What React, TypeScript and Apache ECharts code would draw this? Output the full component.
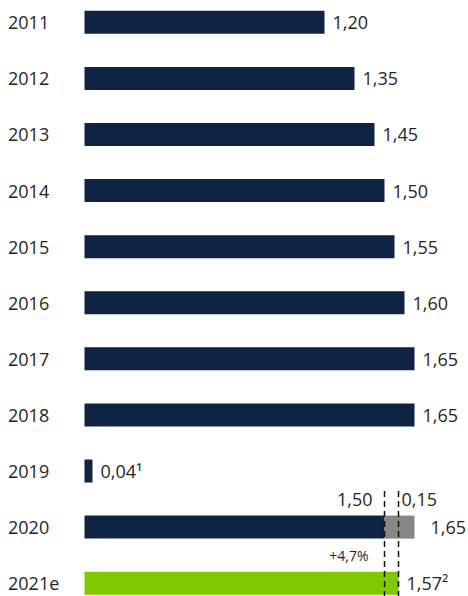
import React, { useEffect, useRef } from "react";
import * as echarts from "echarts";

const years = ["2011", "2012", "2013", "2014", "2015", "2016", "2017", "2018", "2019", "2020", "2021e"];
const dividend = [1.2, 1.35, 1.45, 1.5, 1.55, 1.6, 1.65, 1.65, 0.04, 1.5, 1.57];
const valueLabels = ["1,20", "1,35", "1,45", "1,50", "1,55", "1,60", "1,65", "1,65", "0,04¹", "1,50", "1,57²"];
const extra2020 = [null, null, null, null, null, null, null, null, null, 0.15, null];
const extraLabels = ["", "", "", "", "", "", "", "", "", "0,15", ""];
const totalMarker = [null, null, null, null, null, null, null, null, null, 0, null];
const totalLabels = ["", "", "", "", "", "", "", "", "", "1,65", ""];
const changeText = "+4,7%";

const NAVY = "#0f2343";
const GREY = "#878787";
const GREEN = "#82c800";
const TEXT = "#262626";
const FONT = "'Open Sans', 'Noto Sans', sans-serif";

export default function App() {
  const ref = useRef<HTMLDivElement>(null);
  useEffect(() => {
    if (!ref.current) return;
    const chart = echarts.init(ref.current, undefined, { renderer: "svg" });
    const idx2020 = years.indexOf("2020");
    const idx2021 = years.indexOf("2021e");
    chart.setOption({
      animation: false,
      grid: {
        left: 84.5,
        top: -5.75,
        height: 617,
        width: 400,
        containLabel: false,
        outerBoundsMode: "none",
      },
      xAxis: { type: "value", min: 0, max: 2, show: false },
      yAxis: {
        type: "category",
        data: years,
        inverse: true,
        axisLine: { show: false },
        axisTick: { show: false },
        splitLine: { show: false },
        axisLabel: { align: "left", margin: 76.5, fontSize: 18, color: TEXT, fontFamily: FONT },
      },
      series: [
        {
          type: "bar",
          stack: "a",
          barWidth: 23,
          data: dividend.map((v, i) => {
            const item: any = { value: v };
            if (i === idx2021) item.itemStyle = { color: GREEN };
            if (i === idx2020) {
              item.label = {
                position: ["100%", "0%"],
                align: "right",
                verticalAlign: "middle",
                offset: [-12, -17],
              };
            }
            return item;
          }),
          itemStyle: { color: NAVY },
          label: {
            show: true,
            position: "right",
            distance: 8,
            fontSize: 18,
            color: TEXT,
            fontFamily: FONT,
            formatter: (p: any) => valueLabels[p.dataIndex],
          },
        },
        {
          type: "bar",
          stack: "a",
          barWidth: 23,
          data: extra2020,
          itemStyle: { color: GREY },
          label: {
            show: true,
            position: ["0%", "0%"],
            align: "left",
            verticalAlign: "middle",
            offset: [17, -17],
            fontSize: 18,
            color: TEXT,
            fontFamily: FONT,
            formatter: (p: any) => extraLabels[p.dataIndex],
          },
        },
        {
          type: "bar",
          stack: "a",
          barWidth: 23,
          data: totalMarker,
          itemStyle: { color: "transparent" },
          label: {
            show: true,
            position: "right",
            distance: 16,
            fontSize: 18,
            color: TEXT,
            fontFamily: FONT,
            formatter: (p: any) => totalLabels[p.dataIndex],
          },
        },
      ],
    });

    const x1 = chart.convertToPixel({ xAxisIndex: 0 }, dividend[idx2020]) as number;
    const x2 = chart.convertToPixel({ xAxisIndex: 0 }, dividend[idx2021]) as number;
    const y20 = chart.convertToPixel({ yAxisIndex: 0 }, "2020") as number;
    const y21 = chart.convertToPixel({ yAxisIndex: 0 }, "2021e") as number;
    const yTop = y20 - 36;
    const yBot = y21 + 13;
    const dashStyle = { stroke: "#111", lineWidth: 1.5, lineDash: [6, 4] };
    chart.setOption({
      graphic: [
        { type: "line", shape: { x1: x1, y1: yTop, x2: x1, y2: yBot }, style: dashStyle, z: 100 },
        { type: "line", shape: { x1: x2, y1: yTop, x2: x2, y2: yBot }, style: dashStyle, z: 100 },
        {
          type: "text",
          x: x1 - 16,
          y: (y20 + y21) / 2,
          style: {
            text: changeText,
            fill: TEXT,
            font: `14px ${FONT}`,
            textAlign: "right",
            textVerticalAlign: "middle",
          },
          z: 100,
        },
      ],
    });

    return () => chart.dispose();
  }, []);
  return <div ref={ref} style={{ position: "absolute", left: 0, top: 0, width: 468, height: 596 }} />;
}
